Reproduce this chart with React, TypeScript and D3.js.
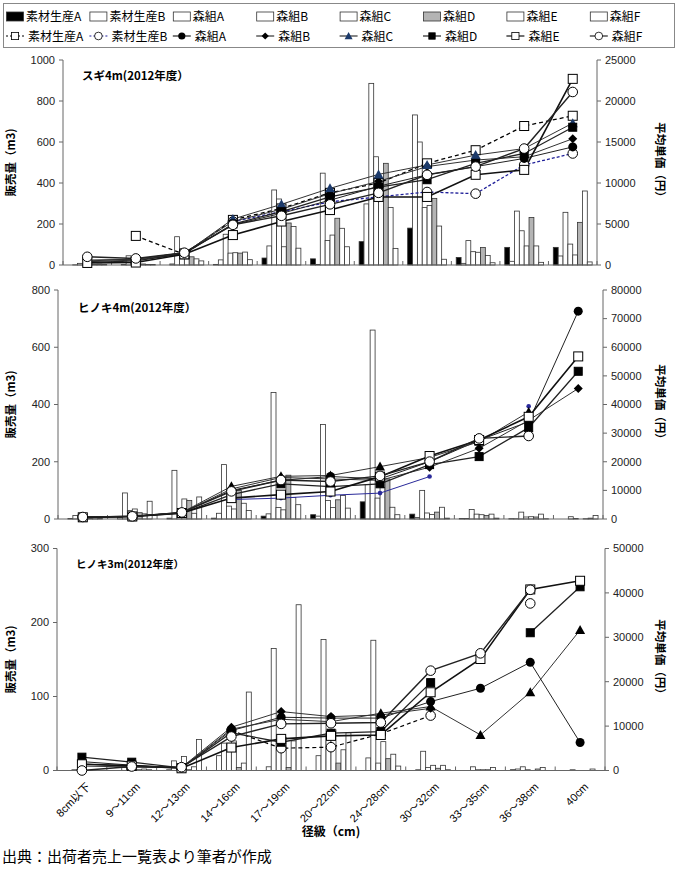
import React from 'react';
import * as d3 from 'd3';

// categories (径級) and series
const categories = ['8cm以下', '9～11cm', '12～13cm', '14～16cm', '17～19cm', '20～22cm', '24～28cm', '30～32cm', '33～35cm', '36～38cm', '40cm'];
const seriesNames = ['素材生産A', '素材生産B', '森組A', '森組B', '森組C', '森組D', '森組E', '森組F'];

// スギ4m: 販売量 (m3), one row per series
const sugi4Volume = [
  [0, 0, 0, 3, 34, 30, 114, 180, 37, 86, 86],
  [1, 2, 5, 25, 93, 3, 298, 732, 8, 18, 44],
  [8, 45, 138, 150, 366, 448, 886, 600, 119, 263, 257],
  [5, 25, 80, 58, 322, 120, 528, 280, 65, 167, 102],
  [3, 6, 45, 60, 89, 146, 390, 290, 62, 93, 49],
  [2, 5, 40, 58, 205, 228, 496, 325, 85, 232, 208],
  [4, 3, 30, 63, 188, 179, 281, 190, 46, 93, 361],
  [2, 2, 20, 26, 82, 89, 81, 28, 11, 13, 15],
];
// スギ4m: 平均単価 (円)
const sugi4Price = [
  [null, 3550, 1300, 5500, 6900, 8800, 10000, 12400, 14000, 16950, 18200],
  [null, null, null, 5300, 6500, 7700, 8300, 8900, 8700, 12200, 13600],
  [600, 700, 1500, 4900, 6300, 7900, 9600, 11000, 12000, 13000, 14400],
  [500, 700, 1500, 5300, 6800, 8700, 10200, 12000, 12800, 13200, 15400],
  [400, 600, 1400, 5600, 7400, 9350, 11050, 12200, 13400, 14200, 17300],
  [300, 500, 1400, 5000, 6500, 8300, 9500, 10400, 12400, 13600, 16800],
  [250, 300, 1300, 3650, 5300, 6700, 8300, 8300, 11000, 11600, 22700],
  [1000, 800, 1500, 4900, 6000, 7400, 8800, 11000, 12000, 14200, 21100],
];

// ヒノキ4m
const hinoki4Volume = [
  [0, 0, 0, 3, 10, 15, 60, 17, 2, 1, 0],
  [2, 5, 3, 20, 18, 10, 120, 5, 2, 1, 0],
  [12, 91, 170, 190, 442, 330, 660, 100, 33, 24, 8],
  [14, 30, 25, 45, 40, 65, 73, 21, 17, 7, 2],
  [5, 35, 70, 35, 32, 40, 110, 16, 15, 8, 0],
  [3, 22, 65, 100, 153, 67, 140, 24, 12, 7, 1],
  [4, 18, 20, 55, 75, 82, 41, 41, 17, 17, 3],
  [2, 62, 77, 30, 50, 38, 15, 3, 3, 1, 12],
];
const hinoki4Price = [
  [null, null, null, null, null, null, null, null, null, null, null],
  [null, null, null, 6800, 7300, 8300, 9040, 14830, null, 39400, null],
  [600, 900, 2200, 10000, 13500, 14840, 14000, 20000, 27500, 34000, 72600],
  [500, 900, 2200, 10500, 14500, 14000, 13500, 18100, 24700, 34500, 45600],
  [700, 1000, 2300, 11400, 14900, 15200, 18300, 21500, 27000, 37400, null],
  [500, 800, 2000, 8500, 12300, 11300, 12300, 19000, 21800, 31900, 51600],
  [600, 900, 2100, 7300, 8500, 9600, 14800, 22000, 27600, 35700, 56800],
  [700, 930, 2300, 9650, 13600, 13100, 15070, 20050, 28160, 29000, null],
];

// ヒノキ3m
const hinoki3Volume = [
  [0, 0, 0, 0, 0, 0, 0, 0, 0, 1, 0],
  [0, 0, 1, 20, 5, 20, 17, 1, 0, 2, 0],
  [1, 4, 13, 37, 165, 177, 176, 26, 5, 5, 1],
  [1, 3, 2, 35, 40, 50, 10, 4, 1, 1, 0],
  [0, 2, 19, 40, 45, 55, 39, 7, 1, 0, 0],
  [0, 1, 1, 4, 4, 10, 16, 3, 1, 2, 0],
  [1, 2, 5, 10, 40, 28, 22, 7, 4, 4, 2],
  [0, 1, 42, 106, 224, 51, 6, 1, 0, 0, 0],
];
const hinoki3Price = [
  [null, null, null, null, null, null, null, null, null, null, null],
  [null, null, null, 9000, 5020, 5250, 8250, 12370, null, 37630, null],
  [2000, 1200, 600, 9000, 12000, 11800, 11800, 15520, 18520, 24360, 6300],
  [1500, 900, 700, 9745, 13270, 12140, 12500, 14000, null, null, null],
  [1000, 800, 600, 9300, 11540, 11000, 12900, 14400, 8020, 17620, 31630],
  [3000, 1870, 600, 8500, 6370, 8400, 8770, 19790, null, 31030, 41380],
  [1400, 1100, 500, 5170, 7120, 7800, 8000, 17620, 25110, 40780, 42730],
  [0, 900, 750, 7650, 10500, 10640, 10800, 22490, 26390, 40700, null],
];

const FONT = '"Liberation Sans", Arial, "Noto Sans CJK JP", sans-serif';
const JFONT = '"Noto Sans CJK JP", "Liberation Sans", sans-serif';

const barFill = ['#000', '#fff', '#fff', '#fff', '#fff', '#b4b4b4', '#fff', '#fff'];

const lineStyles = [
  { stroke: '#000', width: 1.3, dash: '4,3', marker: 'sq' },
  { stroke: '#1f1f99', width: 1.3, dash: '3,2', marker: 'ci' },
  { stroke: '#222', width: 1, dash: null, marker: 'cif' },
  { stroke: '#333', width: 1, dash: null, marker: 'di' },
  { stroke: '#333', width: 1, dash: null, marker: 'tri' },
  { stroke: '#222', width: 1.3, dash: null, marker: 'sqf' },
  { stroke: '#111', width: 1.6, dash: null, marker: 'sq' },
  { stroke: '#222', width: 1.4, dash: null, marker: 'ci' },
];

const panels = [
  {
    title: 'スギ4m(2012年度）', volume: sugi4Volume, price: sugi4Price,
    volTicks: [0, 200, 400, 600, 800, 1000], priceTicks: [0, 5000, 10000, 15000, 20000, 25000],
    left: 63, right: 597, top: 60, bottom: 265, titleX: 82, titleY: 80, titleSize: 11.5,
    triFill: '#1c3a6b', sB: { stroke: '#1f1f99', width: 1.3, dash: '3,2', marker: 'ci' },
  },
  {
    title: 'ヒノキ4m(2012年度）', volume: hinoki4Volume, price: hinoki4Price,
    volTicks: [0, 200, 400, 600, 800], priceTicks: [0, 10000, 20000, 30000, 40000, 50000, 60000, 70000, 80000],
    left: 58, right: 603, top: 290, bottom: 519, titleX: 78, titleY: 312, titleSize: 11.5,
    triFill: '#000', sB: { stroke: '#2a2a9a', width: 1, dash: null, marker: 'dot' },
  },
  {
    title: 'ヒノキ3m(2012年度）', volume: hinoki3Volume, price: hinoki3Price,
    volTicks: [0, 100, 200, 300], priceTicks: [0, 10000, 20000, 30000, 40000, 50000],
    left: 57, right: 605, top: 548.5, bottom: 770.5, titleX: 76, titleY: 568, titleSize: 10.5,
    triFill: '#000', sB: { stroke: '#000', width: 1.2, dash: '4,3', marker: 'ci' },
  },
];

function Marker({ kind, x, y, triFill = '#000', color = '#000' }: any) {
  switch (kind) {
    case 'sq':
      return <rect x={x - 4.5} y={y - 4.5} width={9} height={9} fill="#fff" stroke="#000" strokeWidth={1} />;
    case 'sqf':
      return <rect x={x - 4} y={y - 4} width={8} height={8} fill="#000" stroke="#000" strokeWidth={1} />;
    case 'ci':
      return <circle cx={x} cy={y} r={4.8} fill="#fff" stroke="#000" strokeWidth={1} />;
    case 'cif':
      return <circle cx={x} cy={y} r={4.5} fill="#000" />;
    case 'di':
      return <path d={`M${x},${y - 4.5}L${x + 4.5},${y}L${x},${y + 4.5}L${x - 4.5},${y}Z`} fill="#000" />;
    case 'tri':
      return <path d={`M${x},${y - 5}L${x + 5},${y + 4}L${x - 5},${y + 4}Z`} fill={triFill} />;
    case 'dot':
      return <circle cx={x} cy={y} r={2.3} fill={color} />;
    default:
      return null;
  }
}

function ChartPanel({ p, last }: any) {
  const xGroup = d3.scaleBand<string>().domain(categories).range([p.left, p.right]).paddingInner(0.2).paddingOuter(0.1);
  const xSub = d3.scaleBand<string>().domain(seriesNames).range([0, xGroup.bandwidth()]);
  const xPt = d3.scalePoint<string>().domain(categories).range([p.left, p.right]).padding(0.5);
  const step = (p.right - p.left) / categories.length;
  const yL = d3.scaleLinear().domain([0, p.volTicks[p.volTicks.length - 1]]).range([p.bottom, p.top]);
  const yR = d3.scaleLinear().domain([0, p.priceTicks[p.priceTicks.length - 1]]).range([p.bottom, p.top]);
  const line = d3.line<number | null>()
    .defined(v => v != null)
    .x((_, i) => xPt(categories[i]) as number)
    .y(v => yR(v as number));
  const styles = lineStyles.map((s, i) => (i === 1 ? p.sB : s));
  const midY = (p.top + p.bottom) / 2;
  const axisColor = '#666';

  return (
    <g>
      {/* bars */}
      {p.volume.map((row: number[], si: number) => (
        <g key={'b' + si}>
          {row.map((v, ci) => (
            v > 0 ? (
              <rect key={ci}
                x={(xGroup(categories[ci]) as number) + (xSub(seriesNames[si]) as number)}
                y={yL(v)}
                width={xSub.bandwidth()}
                height={p.bottom - yL(v)}
                fill={barFill[si]} stroke="#333" strokeWidth={0.8} />
            ) : null
          ))}
        </g>
      ))}

      {/* axes */}
      <line x1={p.left} x2={p.left} y1={p.top} y2={p.bottom} stroke={axisColor} />
      <line x1={p.right} x2={p.right} y1={p.top} y2={p.bottom} stroke={axisColor} />
      <line x1={p.left} x2={p.right} y1={p.bottom} y2={p.bottom} stroke={axisColor} />
      {d3.range(categories.length + 1).map(k => (
        <line key={'xt' + k} x1={p.left + k * step} x2={p.left + k * step} y1={p.bottom} y2={p.bottom - 4} stroke={axisColor} />
      ))}
      {p.volTicks.map((t: number) => (
        <g key={'yl' + t}>
          <line x1={p.left - 4} x2={p.left} y1={yL(t)} y2={yL(t)} stroke={axisColor} />
          <text x={p.left - 8} y={yL(t)} dy="0.35em" textAnchor="end" fontSize={11} fill="#222">{t}</text>
        </g>
      ))}
      {p.priceTicks.map((t: number) => (
        <g key={'yr' + t}>
          <line x1={p.right} x2={p.right + 4} y1={yR(t)} y2={yR(t)} stroke={axisColor} />
          <text x={p.right + 8} y={yR(t)} dy="0.35em" textAnchor="start" fontSize={11} fill="#222">{t}</text>
        </g>
      ))}

      {/* lines */}
      {p.price.map((row: (number | null)[], si: number) => (
        <path key={'l' + si} d={line(row) || ''} fill="none"
          stroke={styles[si].stroke} strokeWidth={styles[si].width}
          strokeDasharray={styles[si].dash || undefined} />
      ))}
      {p.price.map((row: (number | null)[], si: number) => (
        <g key={'m' + si}>
          {row.map((v, ci) => v == null ? null : (
            <Marker key={ci} kind={styles[si].marker} x={xPt(categories[ci])} y={yR(v)}
              triFill={p.triFill} color={styles[si].stroke} />
          ))}
        </g>
      ))}

      {/* titles */}
      <text x={p.titleX} y={p.titleY} fontSize={p.titleSize} fontWeight="bold" fontFamily={JFONT}>{p.title}</text>
      <text transform={`translate(15,${midY}) rotate(-90)`} textAnchor="middle" fontSize={11.5} fontWeight="bold" fontFamily={JFONT}>販売量（m3)</text>
      <text transform={`translate(656,${midY}) rotate(90)`} textAnchor="middle" fontSize={11.5} fontWeight="bold" fontFamily={JFONT}>平均単価（円）</text>

      {last ? categories.map(c => (
        <text key={'cl' + c} transform={`translate(${(xPt(c) as number) + 9},${p.bottom + 17}) rotate(-45)`}
          textAnchor="end" fontSize={11} fontFamily={FONT}>{c}</text>
      )) : null}
    </g>
  );
}

function Legend() {
  const x0 = 6, dx = 83.4;
  return (
    <g fontSize={12} fontFamily={JFONT}>
      <rect x={3.5} y={3.5} width={671} height={44} fill="#fff" stroke="#888" strokeWidth={1} />
      {seriesNames.map((n, i) => (
        <g key={'lb' + i} transform={`translate(${x0 + i * dx},0)`}>
          <rect x={0.5} y={12} width={17} height={9} fill={barFill[i]} stroke="#333" strokeWidth={0.8} />
          <text x={20} y={21}>{n}</text>
        </g>
      ))}
      {seriesNames.map((n, i) => {
        const s = lineStyles[i];
        return (
          <g key={'ll' + i} transform={`translate(${x0 + i * dx},0)`}>
            <line x1={0} x2={18} y1={36} y2={36} stroke={s.stroke} strokeWidth={1.2} strokeDasharray={s.dash ? '2,2' : undefined} />
            <g transform="scale(0.8)" style={{ transformOrigin: '9px 36px' }}>
              <Marker kind={s.marker} x={9} y={36} triFill={i === 4 ? '#1c3a6b' : '#000'} />
            </g>
            <text x={22} y={41}>{n}</text>
          </g>
        );
      })}
    </g>
  );
}

export default function App() {
  return (
    <svg width={678} height={890} style={{ position: 'absolute', left: 0, top: 0, background: '#fff' }} fontFamily={FONT}>
      <rect x={0} y={0} width={678} height={890} fill="#fff" />
      <Legend />
      {panels.map((p, i) => <ChartPanel key={i} p={p} last={i === panels.length - 1} />)}
      <text x={331} y={836} textAnchor="middle" fontSize={12} fontWeight="bold" fontFamily={JFONT}>径級（cm)</text>
      <text x={2} y={862} fontSize={15} fontFamily={JFONT}>出典：出荷者売上一覧表より筆者が作成</text>
    </svg>
  );
}
